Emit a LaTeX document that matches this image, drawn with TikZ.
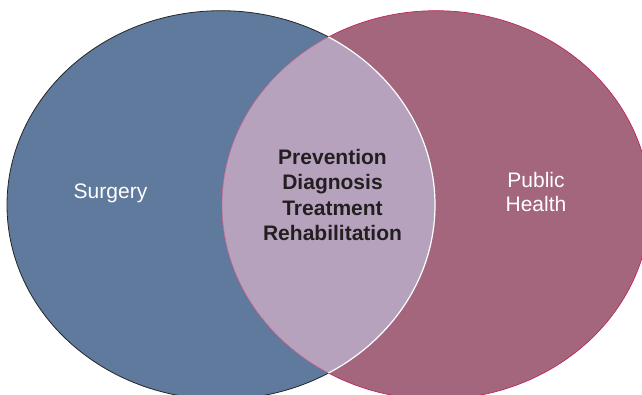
\documentclass[tikz,border=0pt]{standalone}
\usepackage{fontspec}
\setmainfont{Liberation Sans}
\definecolor{surgblue}{RGB}{95,122,157}
\definecolor{pubmauve}{RGB}{164,102,124}
\definecolor{overlap}{RGB}{182,162,189}
\definecolor{publine}{RGB}{192,38,92}
\definecolor{darktext}{RGB}{35,31,32}
\begin{document}
\begin{tikzpicture}[x=1pt,y=-1pt,
  field/.style={text=white, inner sep=0pt, align=center, font=\fontsize{21}{24}\selectfont},
  shared/.style={text=darktext, inner sep=0pt, align=center, font=\bfseries\fontsize{21}{25.3}\selectfont}]
\useasboundingbox (0,0) rectangle (642,394);
% the two fields
\fill[surgblue] (221,205) ellipse (214 and 194.3);
\draw[black!85, line width=0.8pt] (221,205) ellipse (214 and 194.3);
\fill[pubmauve] (436,205) ellipse (214 and 194.3);
\draw[publine, line width=0.7pt] (436,205) ellipse (214 and 194.3);
% overlap
\begin{scope}
\clip (221,205) ellipse (214 and 194.3);
\fill[overlap] (436,205) ellipse (214 and 194.3);
\draw[publine!35!overlap, line width=0.7pt] (436,205) ellipse (214 and 194.3);
\end{scope}
\begin{scope}
\clip (436,205) ellipse (214 and 194.3);
\draw[white, line width=1.2pt] (221,205) ellipse (214 and 194.3);
\end{scope}
% labels
\node[field, anchor=base] (surgery) at (110.5,198) {Surgery};
\node[field] (public) at (536,192) {Public\\Health};
\node[shared] (core) at (332.5,195) {Prevention\\Diagnosis\\Treatment\\Rehabilitation};
\end{tikzpicture}
\end{document}
